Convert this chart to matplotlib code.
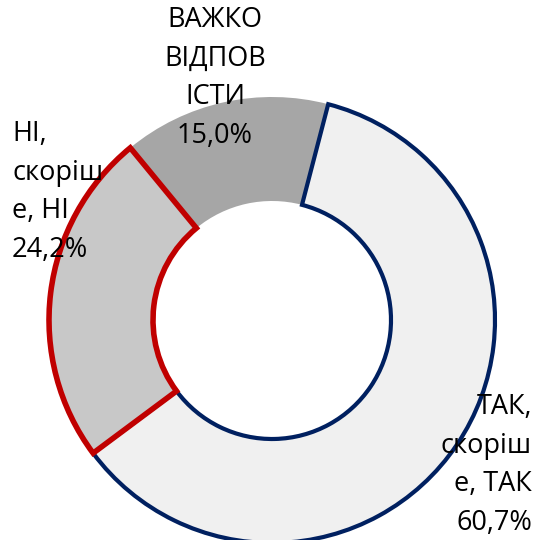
import matplotlib.pyplot as plt

# Data
labels = ["ТАК,\nскоріш\nе, ТАК", "НІ,\nскоріш\nе, НІ", "ВАЖКО\nВІДПОВ\nІСТИ"]
values = [60.7, 24.2, 15.0]
face_colors = ["#f0f0f0", "#c8c8c8", "#a6a6a6"]
edge_colors = ["#002060", "#c00000", "none"]
edge_widths = [3.0, 4.0, 0]
z_orders = [2, 3, 1]

plt.rcParams["font.family"] = ["Open Sans", "DejaVu Sans"]

W, H = 536, 540
fig = plt.figure(figsize=(W / 100, H / 100), dpi=100)
ax = fig.add_axes([0, 0, 1, 1])

cx, cy = 272, H - 320
r_out, r_in = 223, 119

wedges, _ = ax.pie(values, center=(cx, cy), radius=r_out, startangle=75.4,
                   counterclock=False, colors=face_colors,
                   wedgeprops=dict(width=r_out - r_in))
for w, ec, lw, z in zip(wedges, edge_colors, edge_widths, z_orders):
    w.set_edgecolor(ec)
    w.set_linewidth(lw)
    w.set_zorder(z)

ax.set_xlim(0, W)
ax.set_ylim(0, H)
ax.set_aspect("equal")
ax.axis("off")

# Data labels
fs = 19.5
ls = 1.5
ax.text(532, H - 465, f"{labels[0]}\n{values[0]:.1f}%".replace(".", ","),
        ha="right", va="center", fontsize=fs, linespacing=ls, zorder=5)
ax.text(12, H - 192, f"{labels[1]}\n{values[1]:.1f}%".replace(".", ","),
        ha="left", va="center", fontsize=fs, linespacing=ls, zorder=5)
ax.text(215, H - 78, f"{labels[2]}\n{values[2]:.1f}%".replace(".", ","),
        ha="center", va="center", fontsize=fs, linespacing=ls, zorder=5)

fig.savefig("out.png", dpi=100)
